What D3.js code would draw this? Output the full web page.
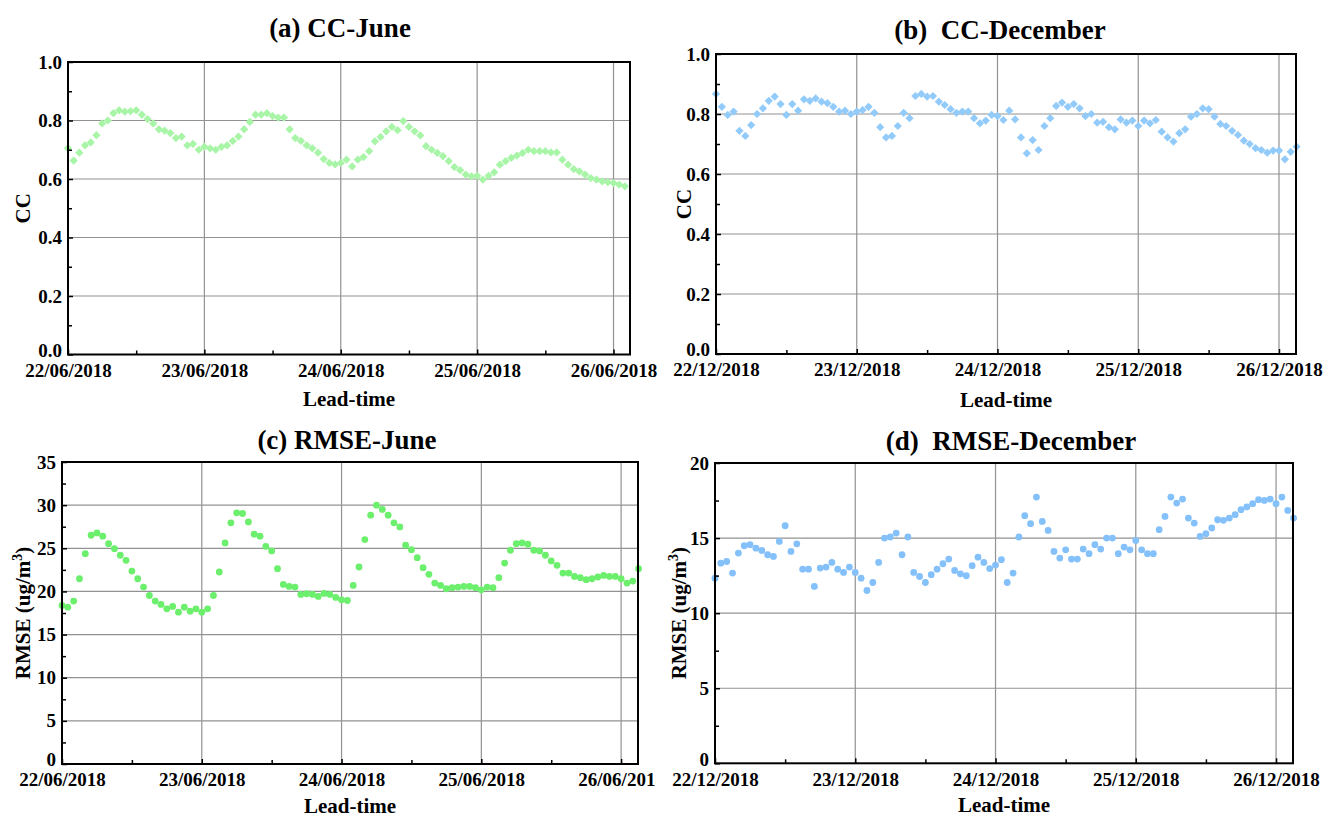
<!DOCTYPE html>
<html>
<head>
<meta charset="utf-8">
<script src="https://cdn.jsdelivr.net/npm/d3@7/dist/d3.min.js"></script>
<style>
  body { margin: 0; background: #fff; }
  svg text { font-family: "Liberation Serif", "Times New Roman", serif; font-weight: bold; fill: #000; }
</style>
</head>
<body>
<script>
// hourly values, index = lead-time hour
const ccJune = [
  .705, .663, .69, .715, .725, .75, .79, .80, .825, .835,
  .83, .832, .835, .82, .805, .79, .77, .765, .757, .74,
  .745, .715, .72, .70, .71, .705, .70, .71, .715, .73,
  .745, .77, .795, .82, .82, .825, .815, .81, .81, .77,
  .74, .73, .715, .705, .69, .668, .655, .65, .655, .666,
  .643, .666, .675, .695, .729, .744, .763, .778, .767, .798,
  .778, .763, .749, .712, .70, .689, .678, .661, .641, .63,
  .615, .609, .611, .598, .611, .623, .649, .661, .672, .68,
  .689, .70, .695, .695, .695, .691, .691, .666, .649, .634,
  .626, .615, .603, .598, .592, .589, .586, .581, .575
];
const ccDec = [
  .867, .824, .797, .808, .744, .727, .763, .80, .819, .844,
  .858, .833, .797, .833, .811, .849, .844, .852, .841, .836,
  .824, .808, .811, .80, .808, .813, .824, .804, .756, .722,
  .727, .76, .804, .786, .86, .867, .858, .86, .841, .83,
  .816, .804, .808, .808, .786, .769, .778, .797, .793, .78,
  .811, .782, .722, .669, .713, .68, .76, .786, .827, .838,
  .824, .833, .819, .793, .80, .771, .774, .756, .749, .782,
  .771, .778, .76, .778, .769, .78, .741, .722, .708, .736,
  .749, .791, .80, .819, .816, .791, .767, .76, .744, .73,
  .711, .70, .686, .68, .671, .678, .678, .649, .674, .691
];
const rmseJune = [
  18.37, 18.18, 18.88, 21.47, 24.38, 26.51, 26.78, 26.4, 25.54, 24.96,
  24.19, 23.6, 22.36, 21.47, 20.5, 19.53, 18.88, 18.49, 17.98, 18.26,
  17.6, 18.18, 17.71, 17.98, 17.6, 17.98, 19.53, 22.25, 25.62, 27.95,
  29.11, 29.03, 28.06, 26.63, 26.4, 25.23, 24.69, 22.64, 20.81, 20.58,
  20.5, 19.65, 19.73, 19.65, 19.42, 19.77, 19.65, 19.3, 19.03, 18.95,
  20.7, 22.83, 26.01, 28.84, 30.0, 29.5, 28.84, 27.95, 27.48, 25.35,
  24.84, 23.91, 22.75, 21.98, 20.97, 20.7, 20.31, 20.43, 20.5, 20.58,
  20.58, 20.43, 20.19, 20.5, 20.43, 21.59, 23.29, 24.77, 25.54, 25.62,
  25.47, 24.77, 24.69, 24.19, 23.53, 23.02, 22.13, 22.13, 21.74, 21.59,
  21.36, 21.47, 21.67, 21.86, 21.74, 21.74, 21.47, 20.97, 21.2, 22.64
];
const rmseDec = [
  12.33, 13.33, 13.44, 12.67, 14.0, 14.49, 14.56, 14.33, 14.18, 13.89,
  13.78, 14.78, 15.82, 14.11, 14.62, 12.93, 12.93, 11.78, 13.0, 13.07,
  13.38, 12.93, 12.71, 13.07, 12.71, 12.33, 11.51, 12.04, 13.38, 15.0,
  15.07, 15.33, 13.89, 15.07, 12.71, 12.44, 12.04, 12.56, 12.93, 13.29,
  13.6, 12.84, 12.62, 12.49, 13.16, 13.73, 13.38, 12.97, 13.2, 13.56,
  12.04, 12.67, 15.07, 16.49, 15.96, 17.73, 16.11, 15.51, 14.11, 13.67,
  14.22, 13.6, 13.6, 14.27, 13.96, 14.56, 14.27, 15.0, 15.0, 13.96,
  14.4, 14.22, 14.84, 14.22, 13.96, 13.96, 15.56, 16.44, 17.73, 17.33,
  17.6, 16.33, 16.0, 15.11, 15.29, 15.67, 16.22, 16.18, 16.33, 16.56,
  16.89, 17.07, 17.29, 17.56, 17.51, 17.6, 17.29, 17.73, 16.84, 16.33
];

const dayTicks = [0, 24, 48, 72, 96];
const halfDayTicks = [12, 36, 60, 84];
const juneLabels = ["22/06/2018", "23/06/2018", "24/06/2018", "25/06/2018", "26/06/2018"];
const decLabels = ["22/12/2018", "23/12/2018", "24/12/2018", "25/12/2018", "26/12/2018"];
const ccTicks = [0, 0.2, 0.4, 0.6, 0.8, 1.0];
const ccMinor = [0.1, 0.3, 0.5, 0.7, 0.9];
const rmseJuneTicks = [0, 5, 10, 15, 20, 25, 30, 35];
const rmseJuneMinor = [2.5, 7.5, 12.5, 17.5, 22.5, 27.5, 32.5];
const rmseDecTicks = [0, 5, 10, 15, 20];
const rmseDecMinor = [2.5, 7.5, 12.5, 17.5];

const W = 1333, H = 818;
const svg = d3.select("body").append("svg")
    .attr("width", W)
    .attr("height", H);

const defs = svg.append("defs");
defs.append("clipPath").attr("id", "clipLeft")
    .append("rect").attr("x", 0).attr("y", 0).attr("width", 656).attr("height", H);

const panels = [
  {title: "(a) CC-June", titleX: 340, titleY: 37, left: 68, top: 62, right: 630, bottom: 354.5,
   values: ccJune, yMax: 1, ticks: ccTicks, minor: ccMinor, fmt: d3.format(".1f"),
   labels: juneLabels, shape: "diamond", color: "#a8f5a8", yLabel: "CC", yLabelOff: 38, xLabelOff: 51},
  {title: "(b)  CC-December", titleX: 1000, titleY: 39, left: 716, top: 54, right: 1296, bottom: 354,
   values: ccDec, yMax: 1, ticks: ccTicks, minor: ccMinor, fmt: d3.format(".1f"),
   labels: decLabels, shape: "diamond", color: "#92cbfa", yLabel: "CC", yLabelOff: 25, xLabelOff: 53},
  {title: "(c) RMSE-June", titleX: 347, titleY: 449, left: 62, top: 462, right: 638, bottom: 764,
   values: rmseJune, yMax: 35, ticks: rmseJuneTicks, minor: rmseJuneMinor, fmt: d3.format("d"),
   labels: juneLabels, shape: "circle", color: "#6cef6c", yLabel: "RMSE", yLabelOff: 32, xLabelOff: 49, clip: true},
  {title: "(d)  RMSE-December", titleX: 1011, titleY: 450, left: 715, top: 463, right: 1293, bottom: 763.3,
   values: rmseDec, yMax: 20, ticks: rmseDecTicks, minor: rmseDecMinor, fmt: d3.format("d"),
   labels: decLabels, shape: "circle", color: "#84c0fa", yLabel: "RMSE", yLabelOff: 29, xLabelOff: 49}
];

function drawPanel(p) {
  const g = svg.append("g");
  if (p.clip) g.attr("clip-path", "url(#clipLeft)");

  const x = d3.scaleLinear().domain([0, 98.9]).range([p.left, p.right]);
  const y = d3.scaleLinear().domain([0, p.yMax]).range([p.bottom, p.top]);

  // grid
  g.append("g").selectAll("line")
    .data(dayTicks.slice(1))
    .enter().append("line")
    .attr("x1", d => x(d)).attr("x2", d => x(d))
    .attr("y1", p.top).attr("y2", p.bottom)
    .attr("stroke", "#929292").attr("stroke-width", 1.2);
  g.append("g").selectAll("line")
    .data(p.ticks.slice(1, -1))
    .enter().append("line")
    .attr("x1", p.left).attr("x2", p.right)
    .attr("y1", d => y(d)).attr("y2", d => y(d))
    .attr("stroke", "#929292").attr("stroke-width", 1.2);

  // points
  const pts = g.append("g");
  if (p.shape === "diamond") {
    const sym = d3.symbol(d3.symbolSquare, 34);
    pts.selectAll("path")
      .data(p.values)
      .enter().append("path")
      .attr("d", sym)
      .attr("transform", (d, i) => "translate(" + x(i) + "," + y(d) + ") rotate(45)")
      .style("fill", p.color);
  } else {
    pts.selectAll("circle")
      .data(p.values)
      .enter().append("circle")
      .attr("cx", (d, i) => x(i))
      .attr("cy", d => y(d))
      .attr("r", 3.4)
      .style("fill", p.color);
  }

  // axes
  const xAxis = d3.axisBottom(x).tickValues(dayTicks)
    .tickFormat((d, i) => p.labels[i]).tickSize(-5).tickPadding(9);
  const xa = g.append("g").attr("transform", "translate(0," + p.bottom + ")").call(xAxis);
  g.append("g").attr("transform", "translate(0," + p.bottom + ")")
    .call(d3.axisBottom(x).tickValues(halfDayTicks).tickFormat("").tickSize(-4));

  const yAxis = d3.axisLeft(y).tickValues(p.ticks).tickFormat(p.fmt).tickSize(-5).tickPadding(6);
  const ya = g.append("g").attr("transform", "translate(" + p.left + ",0)").call(yAxis);
  g.append("g").attr("transform", "translate(" + p.left + ",0)")
    .call(d3.axisLeft(y).tickValues(p.minor).tickFormat("").tickSize(-4));

  g.selectAll(".domain").remove();
  g.selectAll(".tick line").attr("stroke", "#000").attr("stroke-width", 1.5);
  xa.selectAll("text").style("font-size", "19px");
  ya.selectAll("text").style("font-size", "19px");
  // lift the zero label a little so it sits above the date labels
  ya.selectAll(".tick").filter(d => d === 0).select("text").attr("dy", "0.1em");

  // frame
  g.append("rect")
    .attr("x", p.left).attr("y", p.top)
    .attr("width", p.right - p.left).attr("height", p.bottom - p.top)
    .attr("fill", "none").attr("stroke", "#000").attr("stroke-width", 2);

  g.append("text")
    .attr("x", p.titleX).attr("y", p.titleY)
    .attr("text-anchor", "middle")
    .style("font-size", "27px")
    .style("white-space", "pre")
    .text(p.title);

  const cx = (p.left + p.right) / 2;
  g.append("text")
    .attr("x", cx).attr("y", p.bottom + p.xLabelOff)
    .attr("text-anchor", "middle")
    .style("font-size", "21px")
    .text("Lead-time");

  const cy = (p.top + p.bottom) / 2;
  const yl = g.append("text")
    .attr("transform", "translate(" + (p.left - p.yLabelOff) + "," + cy + ") rotate(-90)")
    .attr("text-anchor", "middle")
    .style("font-size", "21px");
  if (p.yLabel === "CC") {
    yl.text("CC");
  } else {
    yl.append("tspan").text("RMSE (ug/m");
    yl.append("tspan").attr("dy", -8).style("font-size", "14px").text("3");
    yl.append("tspan").attr("dy", 8).text(")");
  }
}

panels.forEach(drawPanel);
</script>
</body>
</html>
